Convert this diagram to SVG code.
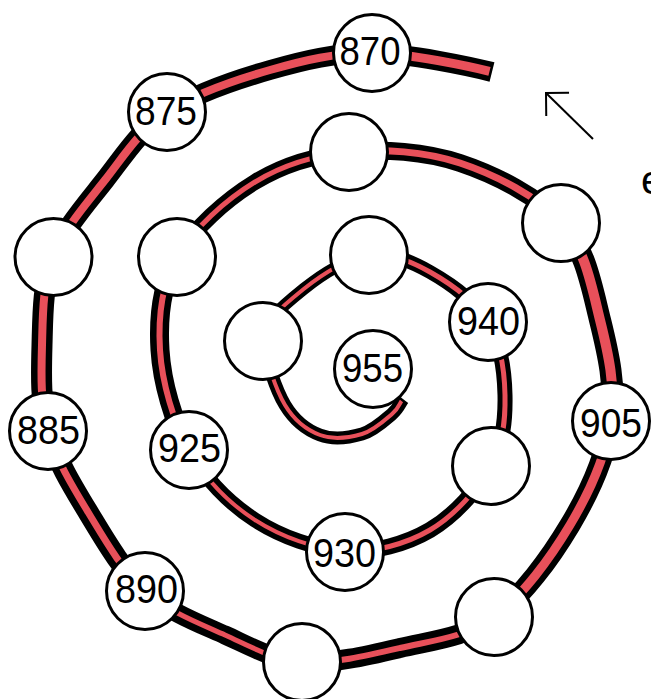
<svg xmlns="http://www.w3.org/2000/svg" width="651" height="699" viewBox="0 0 651 699">
<style>
.blk{fill:none;stroke:#000;stroke-linecap:butt;stroke-linejoin:round}
.red{fill:none;stroke:#E8505A;stroke-linecap:butt;stroke-linejoin:round}
.node circle{fill:#fff;stroke:#000;stroke-width:3}
.lbl{font-family:"Liberation Sans",Arial,sans-serif;font-size:41px;fill:#000;text-anchor:middle}
.arrow{fill:none;stroke:#000;stroke-width:2}
</style>
<defs>
<marker id="open" markerUnits="userSpaceOnUse" viewBox="-20 -20 25 40" markerWidth="25" markerHeight="40" refX="0" refY="0" orient="auto" overflow="visible">
<path d="M-16.3,-16.3 L0,0 L-16.3,16.3" fill="none" stroke="#000" stroke-width="2"/>
</marker>
</defs>
<rect width="651" height="699" fill="#fff"/>
<g id="connectors">
<g id="spiral-black">
<path class="blk" stroke-width="20" d="M492,72 C472,67 409,53.3 372,53"/>
<path class="blk" stroke-width="20" d="M372,53 C335,52.7 304.2,60.2 270,70 C235.8,79.8 194.5,93.7 167,112"/>
<path class="blk" stroke-width="20" d="M167,112 C139.5,130.3 124,155.8 105,180 C86,204.2 63.5,229.5 53,257"/>
<path class="blk" stroke-width="21" d="M53,257 C42.5,284.5 42.8,316 42,345 C41.2,374 40.3,403.2 48,431"/>
<path class="blk" stroke-width="21" d="M48,431 C55.7,458.8 71.8,485.3 88,512 C104.2,538.7 122.2,570.5 145,591"/>
<path class="blk" stroke-width="19" d="M145,591 C167.8,611.5 198.8,623.2 225,635 C251.2,646.8 272.8,659.8 302,662"/>
<path class="blk" stroke-width="20" d="M302,662 C331.2,664.2 368,655.5 400,648 C432,640.5 465.7,637.5 494,617"/>
<path class="blk" stroke-width="21" d="M494,617 C522.3,596.5 550.5,557.7 570,525 C589.5,492.3 606,455.2 611,421"/>
<path class="blk" stroke-width="22" d="M611,421 C616,386.8 608.2,353 600,320 C591.8,287 585.3,249.2 562,223"/>
<path class="blk" stroke-width="18" d="M562,223 C538.7,196.8 495.5,174.8 460,163 C424.5,151.2 383.2,148.8 349,152"/>
<path class="blk" stroke-width="16" d="M349,152 C314.8,155.2 283.7,164.5 255,182 C226.3,199.5 192.8,229 177,257"/>
<path class="blk" stroke-width="19" d="M177,257 C161.2,285 158,317.8 160,350 C162,382.2 173.2,421.7 189,450"/>
<path class="blk" stroke-width="15" d="M189,450 C204.8,478.3 229,503.2 255,520 C281,536.8 315.8,549.3 345,551"/>
<path class="blk" stroke-width="16" d="M345,551 C374.2,552.7 405.7,544.2 430,530 C454.3,515.8 478.5,488.5 491,466"/>
<path class="blk" stroke-width="15" d="M491,466 C503.5,443.5 505.5,419 505,395 C504.5,371 500.5,342.5 488,322"/>
<path class="blk" stroke-width="14" d="M488,322 C475.5,301.5 449.8,283.2 430,272 C410.2,260.8 389.8,252.3 369,255"/>
<path class="blk" stroke-width="12" d="M369,255 C348.2,257.7 322.7,273.7 305,288 C287.3,302.3 260,323 263,341"/>
<path class="blk" stroke-width="13" d="M263,341 C266,359 275.5,389.3 285,405 C294.5,420.7 307.2,430.2 320,435 C332.8,439.8 350,437.5 362,434 C374,430.5 385.2,419.8 392,414 C398.8,408.2 400,403 403,399"/>
</g>
<g id="spiral-red">
<path class="red" stroke-width="9" d="M489.5,71.4 C472,67 409,53.3 372,53"/>
<path class="red" stroke-width="8" d="M372,53 C335,52.7 304.2,60.2 270,70 C235.8,79.8 194.5,93.7 167,112"/>
<path class="red" stroke-width="8" d="M167,112 C139.5,130.3 124,155.8 105,180 C86,204.2 63.5,229.5 53,257"/>
<path class="red" stroke-width="8" d="M53,257 C42.5,284.5 42.8,316 42,345 C41.2,374 40.3,403.2 48,431"/>
<path class="red" stroke-width="7" d="M48,431 C55.7,458.8 71.8,485.3 88,512 C104.2,538.7 122.2,570.5 145,591"/>
<path class="red" stroke-width="5" d="M145,591 C167.8,611.5 198.8,623.2 225,635 C251.2,646.8 272.8,659.8 302,662"/>
<path class="red" stroke-width="6" d="M302,662 C331.2,664.2 368,655.5 400,648 C432,640.5 465.7,637.5 494,617"/>
<path class="red" stroke-width="9" d="M494,617 C522.3,596.5 550.5,557.7 570,525 C589.5,492.3 606,455.2 611,421"/>
<path class="red" stroke-width="10" d="M611,421 C616,386.8 608.2,353 600,320 C591.8,287 585.3,249.2 562,223"/>
<path class="red" stroke-width="7" d="M562,223 C538.7,196.8 495.5,174.8 460,163 C424.5,151.2 383.2,148.8 349,152"/>
<path class="red" stroke-width="5" d="M349,152 C314.8,155.2 283.7,164.5 255,182 C226.3,199.5 192.8,229 177,257"/>
<path class="red" stroke-width="6" d="M177,257 C161.2,285 158,317.8 160,350 C162,382.2 173.2,421.7 189,450"/>
<path class="red" stroke-width="4" d="M189,450 C204.8,478.3 229,503.2 255,520 C281,536.8 315.8,549.3 345,551"/>
<path class="red" stroke-width="5" d="M345,551 C374.2,552.7 405.7,544.2 430,530 C454.3,515.8 478.5,488.5 491,466"/>
<path class="red" stroke-width="5" d="M491,466 C503.5,443.5 505.5,419 505,395 C504.5,371 500.5,342.5 488,322"/>
<path class="red" stroke-width="5" d="M488,322 C475.5,301.5 449.8,283.2 430,272 C410.2,260.8 389.8,252.3 369,255"/>
<path class="red" stroke-width="4" d="M369,255 C348.2,257.7 322.7,273.7 305,288 C287.3,302.3 260,323 263,341"/>
<path class="red" stroke-width="4" d="M263,341 C266,359 275.5,389.3 285,405 C294.5,420.7 307.2,430.2 320,435 C332.8,439.8 350,437.5 362,434 C374,430.5 385.2,419.8 392,414 C398.8,408.2 399.5,403.5 401.5,401"/>
</g>
<path id="arrow" class="arrow" d="M593,139 L546,93" marker-end="url(#open)"/>
</g>
<g id="n870" class="node"><circle cx="372" cy="53" r="38.5"/><text class="lbl" x="370" y="65" textLength="61" lengthAdjust="spacingAndGlyphs">870</text></g>
<g id="n875" class="node"><circle cx="167" cy="112" r="38.5"/><text class="lbl" x="166" y="125" textLength="62" lengthAdjust="spacingAndGlyphs">875</text></g>
<g id="n880" class="node"><circle cx="53.5" cy="257" r="38.5"/></g>
<g id="n885" class="node"><circle cx="48" cy="431" r="38.5"/><text class="lbl" x="48.5" y="444" textLength="63" lengthAdjust="spacingAndGlyphs">885</text></g>
<g id="n890" class="node"><circle cx="145" cy="591" r="38.5"/><text class="lbl" x="146.5" y="603" textLength="63" lengthAdjust="spacingAndGlyphs">890</text></g>
<g id="n895" class="node"><circle cx="302" cy="662" r="38.5"/></g>
<g id="n900" class="node"><circle cx="494" cy="617" r="38.5"/></g>
<g id="n905" class="node"><circle cx="611" cy="421" r="38.5"/><text class="lbl" x="611" y="437" textLength="62" lengthAdjust="spacingAndGlyphs">905</text></g>
<g id="n910" class="node"><circle cx="561" cy="223" r="38.5"/></g>
<g id="n915" class="node"><circle cx="349" cy="152" r="38.5"/></g>
<g id="n920" class="node"><circle cx="177" cy="257" r="38.5"/></g>
<g id="n925" class="node"><circle cx="189" cy="450" r="38.5"/><text class="lbl" x="189.5" y="462" textLength="63" lengthAdjust="spacingAndGlyphs">925</text></g>
<g id="n930" class="node"><circle cx="345" cy="552" r="38.5"/><text class="lbl" x="344.5" y="567" textLength="63" lengthAdjust="spacingAndGlyphs">930</text></g>
<g id="n935" class="node"><circle cx="491" cy="466" r="38.5"/></g>
<g id="n940" class="node"><circle cx="488" cy="322" r="38.5"/><text class="lbl" x="488.5" y="335" textLength="63" lengthAdjust="spacingAndGlyphs">940</text></g>
<g id="n945" class="node"><circle cx="369" cy="255" r="38.5"/></g>
<g id="n950" class="node"><circle cx="263" cy="341" r="38.5"/></g>
<g id="n955" class="node"><circle cx="373" cy="369" r="38.5"/><text class="lbl" x="372.5" y="382" textLength="61" lengthAdjust="spacingAndGlyphs">955</text></g>
<text id="side-label" x="641" y="194" style="font-family:'Liberation Sans',Arial,sans-serif;font-size:41px;fill:#000">e</text>
</svg>
